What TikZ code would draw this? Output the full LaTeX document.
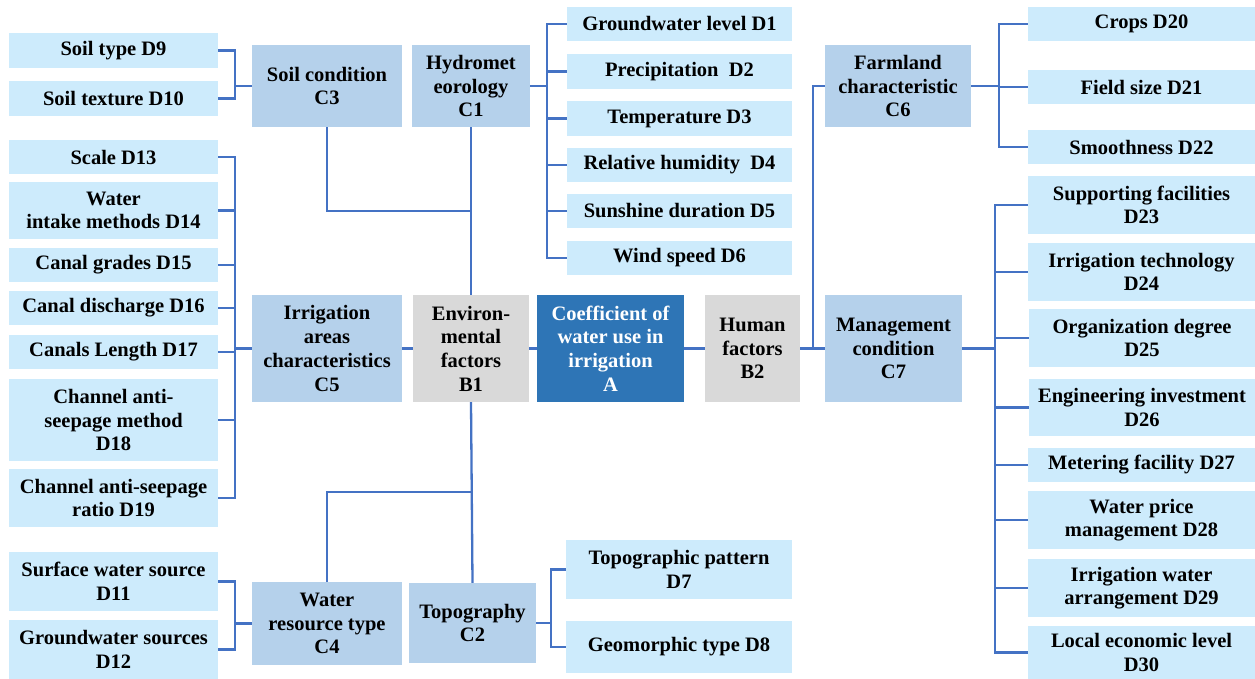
\documentclass[tikz,border=0pt]{standalone}
\usepackage{fontspec}
\setmainfont{Liberation Serif}
\usetikzlibrary{calc}
\definecolor{dfill}{RGB}{205,235,252}
\definecolor{cfill}{RGB}{181,209,235}
\definecolor{gfill}{RGB}{217,217,217}
\definecolor{afill}{RGB}{46,117,182}
\definecolor{lnk}{RGB}{68,114,196}
\newcommand{\mkbox}[7]{\node[#1, minimum width={(#5-#3)*1pt}, minimum height={(#6-#4)*1pt}] (#2) at ({(#3+#5)/2},{(#4+#6)/2}) {#7};}
\begin{document}
\begin{tikzpicture}[x=1pt,y=-1pt,
 boxbase/.style={rectangle, inner sep=0pt, align=center, font=\fontsize{20.5}{23.7}\selectfont\bfseries},
 dbox/.style={boxbase, fill=dfill},
 cbox/.style={boxbase, fill=cfill},
 gbox/.style={boxbase, fill=gfill},
 abox/.style={boxbase, fill=afill, text=white},
 link/.style={draw=lnk, line width=2.3pt, line join=miter}]
\fill[white] (0,0) rectangle (1255,679);
\useasboundingbox (0,0) rectangle (1255,679);

% left D boxes
\mkbox{dbox}{d9}{9}{33}{218}{68}{Soil type D9}
\mkbox{dbox}{d10}{9}{81}{218}{116}{Soil texture D10}
\mkbox{dbox}{d13}{9}{140}{218}{174}{Scale D13}
\mkbox{dbox}{d14}{9}{182}{218}{239}{Water\\intake methods D14}
\mkbox{dbox}{d15}{9}{248}{218}{282}{Canal grades D15}
\mkbox{dbox}{d16}{9}{291}{218}{325}{Canal discharge D16}
\mkbox{dbox}{d17}{9}{335}{218}{369}{Canals Length D17}
\mkbox{dbox}{d18}{9}{379}{218}{461}{Channel anti-\\seepage method\\D18}
\mkbox{dbox}{d19}{9}{469}{218}{527}{Channel anti-seepage\\ratio D19}
\mkbox{dbox}{d11}{9}{552}{218}{611}{Surface water source\\D11}
\mkbox{dbox}{d12}{9}{620}{218}{679}{Groundwater sources\\D12}

% C boxes left
\mkbox{cbox}{c3}{252}{45}{402}{127}{Soil condition\\C3}
\mkbox{cbox}{c5}{252}{295}{402}{402}{Irrigation\\areas\\characteristics\\C5}
\mkbox{cbox}{c4}{252}{582}{402}{665}{Water\\resource type\\C4}
\mkbox{cbox}{c1}{412}{45}{530}{127}{Hydromet\\eorology\\C1}
\mkbox{cbox}{c2}{409}{583}{536}{663}{Topography\\C2}

% centre
\mkbox{gbox}{b1}{413}{295}{529}{402}{Environ-\\mental\\factors\\B1}
\mkbox{abox}{a}{537}{295}{684}{402}{Coefficient of\\water use in\\irrigation\\A}
\mkbox{gbox}{b2}{705}{295}{800}{402}{Human\\factors\\B2}

% middle D boxes
\mkbox{dbox}{d1}{567}{7}{792}{41}{Groundwater level D1}
\mkbox{dbox}{d2}{567}{54}{792}{89}{Precipitation~~D2}
\mkbox{dbox}{d3}{567}{101}{792}{136}{Temperature D3}
\mkbox{dbox}{d4}{567}{148}{792}{182}{Relative humidity~~D4}
\mkbox{dbox}{d5}{567}{194}{792}{228}{Sunshine duration D5}
\mkbox{dbox}{d6}{567}{241}{792}{275}{Wind speed D6}
\mkbox{dbox}{d7}{566}{540}{792}{599}{Topographic pattern\\D7}
\mkbox{dbox}{d8}{566}{621}{792}{673}{Geomorphic type D8}

% right C boxes
\mkbox{cbox}{c6}{825}{45}{971}{127}{Farmland\\characteristic\\C6}
\mkbox{cbox}{c7}{825}{295}{962}{402}{Management\\condition\\C7}

% right D boxes
\mkbox{dbox}{d20}{1028}{7}{1255}{41}{Crops D20}
\mkbox{dbox}{d21}{1028}{70}{1255}{104}{Field size D21}
\mkbox{dbox}{d22}{1028}{130}{1255}{164}{Smoothness D22}
\mkbox{dbox}{d23}{1028}{176}{1255}{234}{Supporting facilities\\D23}
\mkbox{dbox}{d24}{1028}{243}{1255}{301}{Irrigation technology\\D24}
\mkbox{dbox}{d25}{1029}{309}{1255}{367}{Organization degree\\D25}
\mkbox{dbox}{d26}{1029}{379}{1255}{436}{Engineering investment\\D26}
\mkbox{dbox}{d27}{1028}{448}{1255}{482}{Metering facility D27}
\mkbox{dbox}{d28}{1028}{491}{1255}{549}{Water price\\management D28}
\mkbox{dbox}{d29}{1028}{559}{1255}{617}{Irrigation water\\arrangement D29}
\mkbox{dbox}{d30}{1028}{626}{1255}{679}{Local economic level\\D30}

% bus coordinates
\coordinate (bl) at (235,0);
\coordinate (bc1) at (547,0);
\coordinate (bc2) at (551,0);
\coordinate (bc6) at (999,0);
\coordinate (bc7) at (995,0);
\coordinate (hj) at (813,0);
\coordinate (j1) at (471,211);
\coordinate (j2) at (472,492);

% C3 group
\draw[link] (d9.east) -- (d9.east -| bl) -- (d10.east -| bl) -- (d10.east);
\draw[link] (c3.west) -- (c3.west -| bl);
% C5 group
\draw[link] (d13.east) -- (d13.east -| bl) -- (d19.east -| bl) -- (d19.east);
\foreach \n in {d14,d15,d16,d17,d18} \draw[link] (\n.east) -- (\n.east -| bl);
\draw[link] (c5.west) -- (c5.west -| bl);
% C4 group
\draw[link] (d11.east) -- (d11.east -| bl) -- (d12.east -| bl) -- (d12.east);
\draw[link] (c4.west) -- (c4.west -| bl);
% C1 group
\draw[link] (d1.west) -- (d1.west -| bc1) -- (d6.west -| bc1) -- (d6.west);
\foreach \n in {d2,d3,d4,d5} \draw[link] (\n.west) -- (\n.west -| bc1);
\draw[link] (c1.east) -- (c1.east -| bc1);
% C2 group
\draw[link] (d7.west) -- (d7.west -| bc2) -- (d8.west -| bc2) -- (d8.west);
\draw[link] (c2.east) -- (c2.east -| bc2);
% C6 group
\draw[link] (d20.west) -- (d20.west -| bc6) -- (d22.west -| bc6) -- (d22.west);
\draw[link] (d21.west) -- (d21.west -| bc6);
\draw[link] (c6.east) -- (c6.east -| bc6);
% C7 group
\draw[link] (d23.west) -- (d23.west -| bc7) -- (d30.west -| bc7) -- (d30.west);
\foreach \n in {d24,d25,d26,d27,d28,d29} \draw[link] (\n.west) -- (\n.west -| bc7);
\draw[link] (c7.east) -- (c7.east -| bc7);

% centre links
\draw[link] (c5.east) -- (b1.west);
\draw[link] (b1.east) -- (a.west);
\draw[link] (a.east) -- (b2.west);
\draw[link] (b2.east) -- (c7.west);
\draw[link] (c6.west) -- (c6.west -| hj) -- (c7.west -| hj);
\draw[link] (c1.south) -- (b1.north);
\draw[link] (c3.south) |- (j1);
\draw[link] (b1.south) -- (c2.north);
\draw[link] (c4.north) |- (j2);
\end{tikzpicture}
\end{document}
